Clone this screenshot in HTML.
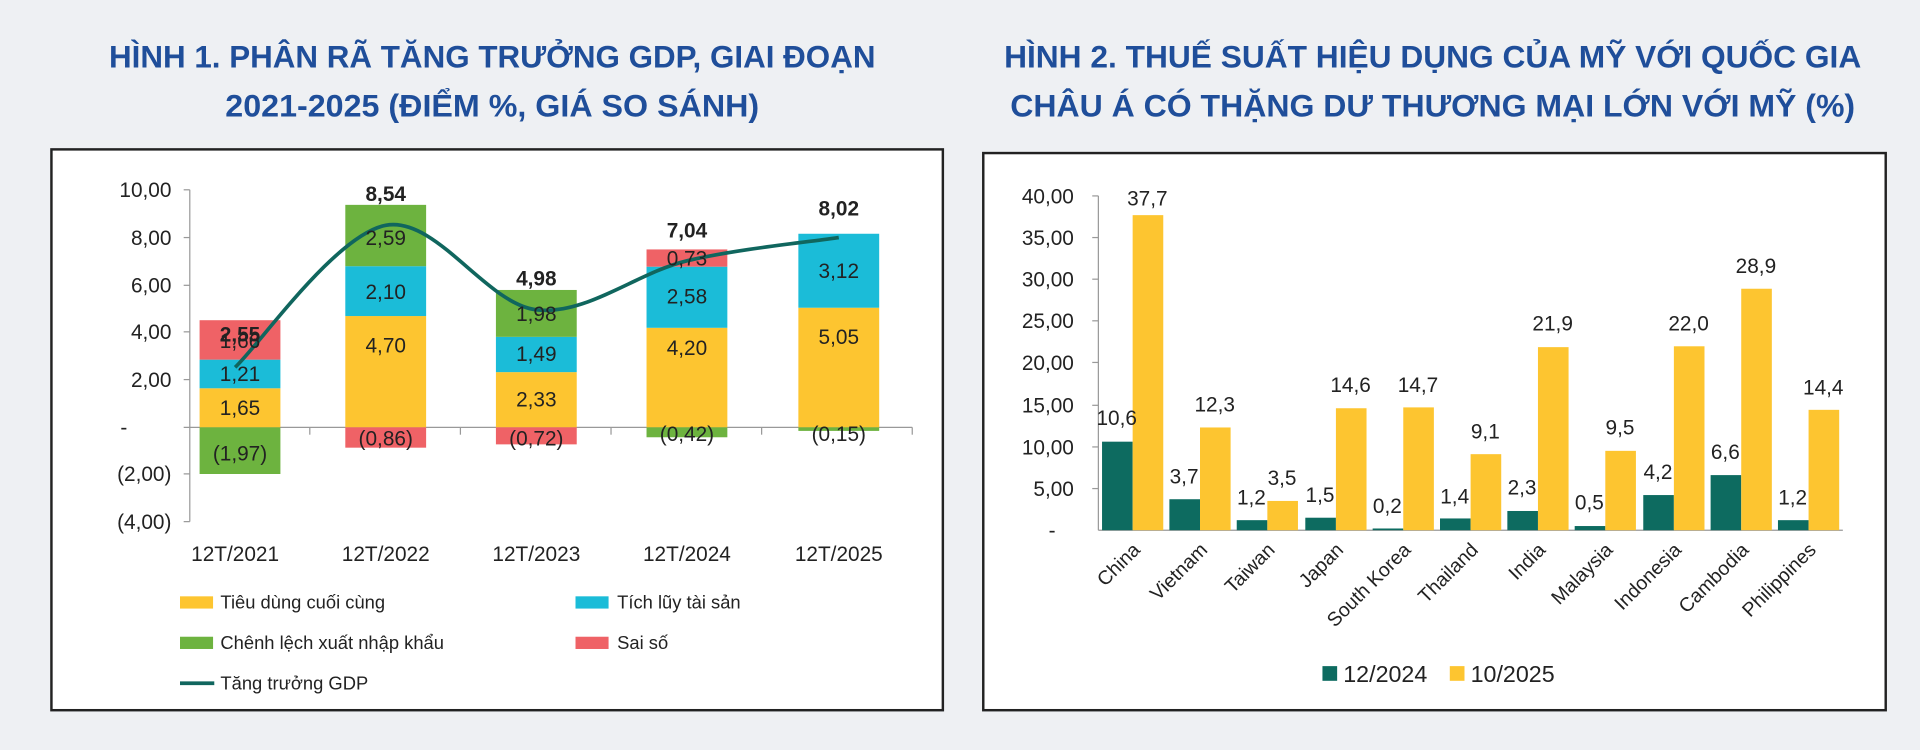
<!DOCTYPE html>
<html><head><meta charset="utf-8"><style>
html,body{margin:0;padding:0;background:#eef0f3;}
svg{display:block;font-family:"Liberation Sans",sans-serif;}
</style></head><body>
<svg width="1920" height="750" viewBox="0 0 1568 612.5" preserveAspectRatio="none" xmlns="http://www.w3.org/2000/svg">
<rect width="1568" height="613" fill="#eef0f3"/>
<g font-weight="bold" font-size="26" fill="#1f4e9a" text-anchor="middle">
<text x="402" y="55" textLength="626" lengthAdjust="spacingAndGlyphs">HÌNH 1. PHÂN RÃ TĂNG TRƯỞNG GDP,  GIAI ĐOẠN</text>
<text x="402" y="95" textLength="436" lengthAdjust="spacingAndGlyphs">2021-2025 (ĐIỂM %, GIÁ SO SÁNH)</text>
<text x="1170" y="55" textLength="700" lengthAdjust="spacingAndGlyphs">HÌNH 2. THUẾ SUẤT HIỆU DỤNG CỦA MỸ VỚI QUỐC GIA</text>
<text x="1170" y="95" textLength="690" lengthAdjust="spacingAndGlyphs">CHÂU Á CÓ THẶNG DƯ THƯƠNG MẠI LỚN VỚI MỸ (%)</text>
</g>
<rect x="42" y="122" width="728" height="458" fill="#fff" stroke="#222" stroke-width="2"/>
<g font-size="17" fill="#222" text-anchor="end">
<text x="140" y="161">10,00</text><text x="140" y="200">8,00</text><text x="140" y="239">6,00</text>
<text x="140" y="277">4,00</text><text x="140" y="316">2,00</text><text x="104" y="355">-</text>
<text x="140" y="393">(2,00)</text><text x="140" y="432">(4,00)</text>
</g>
<line x1="155" y1="155" x2="155" y2="426" stroke="#999"/>
<line x1="150" y1="349" x2="745" y2="349" stroke="#999"/>
<g stroke="#999"><line x1="150" y1="155" x2="155" y2="155"/><line x1="150" y1="194" x2="155" y2="194"/><line x1="150" y1="233" x2="155" y2="233"/><line x1="150" y1="271" x2="155" y2="271"/><line x1="150" y1="310" x2="155" y2="310"/><line x1="150" y1="387" x2="155" y2="387"/><line x1="150" y1="426" x2="155" y2="426"/>
<line x1="253" y1="349" x2="253" y2="355"/><line x1="376" y1="349" x2="376" y2="355"/><line x1="499" y1="349" x2="499" y2="355"/><line x1="622" y1="349" x2="622" y2="355"/><line x1="745" y1="349" x2="745" y2="355"/></g>
<g>
<rect x="163" y="317.1" width="66" height="31.9" fill="#fdc530"/>
<rect x="163" y="293.7" width="66" height="23.4" fill="#1bbcd8"/>
<rect x="163" y="261.5" width="66" height="32.2" fill="#ef6266"/>
<rect x="163" y="349" width="66" height="38.1" fill="#6db33f"/>
<rect x="282" y="258.1" width="66" height="90.9" fill="#fdc530"/>
<rect x="282" y="217.4" width="66" height="40.7" fill="#1bbcd8"/>
<rect x="282" y="167.3" width="66" height="50.1" fill="#6db33f"/>
<rect x="282" y="349" width="66" height="16.6" fill="#ef6266"/>
<rect x="405" y="303.9" width="66" height="45.1" fill="#fdc530"/>
<rect x="405" y="275.1" width="66" height="28.8" fill="#1bbcd8"/>
<rect x="405" y="236.8" width="66" height="38.3" fill="#6db33f"/>
<rect x="405" y="349" width="66" height="13.9" fill="#ef6266"/>
<rect x="528" y="267.7" width="66" height="81.3" fill="#fdc530"/>
<rect x="528" y="217.8" width="66" height="49.9" fill="#1bbcd8"/>
<rect x="528" y="203.7" width="66" height="14.1" fill="#ef6266"/>
<rect x="528" y="349" width="66" height="8.1" fill="#6db33f"/>
<rect x="652" y="251.3" width="66" height="97.7" fill="#fdc530"/>
<rect x="652" y="190.9" width="66" height="60.4" fill="#1bbcd8"/>
<rect x="652" y="349" width="66" height="2.9" fill="#6db33f"/>
</g>
<path d="M192,300 C212.5,280.7 274,191.8 315,184 C356,176.2 397,248.2 438,253 C479,257.8 519.8,222.8 561,213 C602.2,203.2 664.3,197.2 685,194" fill="none" stroke="#10665e" stroke-width="3"/>
<g font-size="17" fill="#222" text-anchor="middle">
<text x="196" y="339">1,65</text><text x="196" y="311">1,21</text><text x="196" y="284">1,66</text><text x="196" y="376">(1,97)</text>
<text x="315" y="288">4,70</text><text x="315" y="244">2,10</text><text x="315" y="200">2,59</text><text x="315" y="364">(0,86)</text>
<text x="438" y="332">2,33</text><text x="438" y="295">1,49</text><text x="438" y="262">1,98</text><text x="438" y="364">(0,72)</text>
<text x="561" y="290">4,20</text><text x="561" y="248">2,58</text><text x="561" y="217">0,73</text><text x="561" y="360">(0,42)</text>
<text x="685" y="281">5,05</text><text x="685" y="227">3,12</text><text x="685" y="360">(0,15)</text>
<g font-weight="bold"><text x="196" y="279">2,55</text><text x="315" y="164">8,54</text><text x="438" y="233">4,98</text><text x="561" y="194">7,04</text><text x="685" y="176">8,02</text></g>
<text x="192" y="458">12T/2021</text><text x="315" y="458">12T/2022</text><text x="438" y="458">12T/2023</text><text x="561" y="458">12T/2024</text><text x="685" y="458">12T/2025</text>
</g>
<g font-size="15" fill="#222">
<rect x="147" y="487" width="27" height="10" fill="#fdc530"/><text x="180" y="497">Tiêu dùng cuối cùng</text>
<rect x="470" y="487" width="27" height="10" fill="#1bbcd8"/><text x="504" y="497">Tích lũy tài sản</text>
<rect x="147" y="520" width="27" height="10" fill="#6db33f"/><text x="180" y="530">Chênh lệch xuất nhập khẩu</text>
<rect x="470" y="520" width="27" height="10" fill="#ef6266"/><text x="504" y="530">Sai số</text>
<line x1="147" y1="558" x2="175" y2="558" stroke="#10665e" stroke-width="3"/><text x="180" y="563">Tăng trưởng GDP</text>
</g>
<rect x="803" y="125" width="737" height="455" fill="#fff" stroke="#222" stroke-width="2"/>
<g font-size="17" fill="#222" text-anchor="end">
<text x="877" y="166">40,00</text><text x="877" y="200">35,00</text><text x="877" y="234">30,00</text><text x="877" y="268">25,00</text>
<text x="877" y="302">20,00</text><text x="877" y="337">15,00</text><text x="877" y="371">10,00</text><text x="877" y="405">5,00</text><text x="862" y="439">-</text>
</g>
<line x1="897" y1="160" x2="897" y2="433" stroke="#999"/>
<line x1="897" y1="433" x2="1505" y2="433" stroke="#999"/>
<g stroke="#999"><line x1="892" y1="160" x2="897" y2="160"/><line x1="892" y1="194" x2="897" y2="194"/><line x1="892" y1="228" x2="897" y2="228"/><line x1="892" y1="262" x2="897" y2="262"/><line x1="892" y1="296" x2="897" y2="296"/><line x1="892" y1="331" x2="897" y2="331"/><line x1="892" y1="365" x2="897" y2="365"/><line x1="892" y1="399" x2="897" y2="399"/></g>
<g font-size="17" fill="#222" text-anchor="middle">
<rect x="900" y="360.7" width="25" height="72.3" fill="#0d6b60"/><rect x="925" y="175.7" width="25" height="257.3" fill="#fdc530"/><text x="912" y="347">10,6</text><text x="937" y="168">37,7</text>
<rect x="955" y="407.7" width="25" height="25.3" fill="#0d6b60"/><rect x="980" y="349.1" width="25" height="83.9" fill="#fdc530"/><text x="967" y="395">3,7</text><text x="992" y="336">12,3</text>
<rect x="1010" y="424.8" width="25" height="8.2" fill="#0d6b60"/><rect x="1035" y="409.1" width="25" height="23.9" fill="#fdc530"/><text x="1022" y="412">1,2</text><text x="1047" y="396">3,5</text>
<rect x="1066" y="422.8" width="25" height="10.2" fill="#0d6b60"/><rect x="1091" y="333.4" width="25" height="99.6" fill="#fdc530"/><text x="1078" y="410">1,5</text><text x="1103" y="320">14,6</text>
<rect x="1121" y="431.6" width="25" height="1.4" fill="#0d6b60"/><rect x="1146" y="332.7" width="25" height="100.3" fill="#fdc530"/><text x="1133" y="419">0,2</text><text x="1158" y="320">14,7</text>
<rect x="1176" y="423.4" width="25" height="9.6" fill="#0d6b60"/><rect x="1201" y="370.9" width="25" height="62.1" fill="#fdc530"/><text x="1188" y="411">1,4</text><text x="1213" y="358">9,1</text>
<rect x="1231" y="417.3" width="25" height="15.7" fill="#0d6b60"/><rect x="1256" y="283.5" width="25" height="149.5" fill="#fdc530"/><text x="1243" y="404">2,3</text><text x="1268" y="270">21,9</text>
<rect x="1286" y="429.6" width="25" height="3.4" fill="#0d6b60"/><rect x="1311" y="368.2" width="25" height="64.8" fill="#fdc530"/><text x="1298" y="416">0,5</text><text x="1323" y="355">9,5</text>
<rect x="1342" y="404.3" width="25" height="28.7" fill="#0d6b60"/><rect x="1367" y="282.8" width="25" height="150.2" fill="#fdc530"/><text x="1354" y="391">4,2</text><text x="1379" y="270">22,0</text>
<rect x="1397" y="388" width="25" height="45" fill="#0d6b60"/><rect x="1422" y="235.8" width="25" height="197.2" fill="#fdc530"/><text x="1409" y="375">6,6</text><text x="1434" y="223">28,9</text>
<rect x="1452" y="424.8" width="25" height="8.2" fill="#0d6b60"/><rect x="1477" y="334.7" width="25" height="98.3" fill="#fdc530"/><text x="1464" y="412">1,2</text><text x="1489" y="322">14,4</text>
</g>
<g font-size="16" fill="#222" text-anchor="end">
<text transform="translate(932,450) rotate(-45)">China</text>
<text transform="translate(987,450) rotate(-45)">Vietnam</text>
<text transform="translate(1042,450) rotate(-45)">Taiwan</text>
<text transform="translate(1098,450) rotate(-45)">Japan</text>
<text transform="translate(1153,450) rotate(-45)">South Korea</text>
<text transform="translate(1208,450) rotate(-45)">Thailand</text>
<text transform="translate(1263,450) rotate(-45)">India</text>
<text transform="translate(1318,450) rotate(-45)">Malaysia</text>
<text transform="translate(1374,450) rotate(-45)">Indonesia</text>
<text transform="translate(1429,450) rotate(-45)">Cambodia</text>
<text transform="translate(1484,450) rotate(-45)">Philippines</text>
</g>
<g font-size="19" fill="#222">
<rect x="1080" y="544" width="12" height="12" fill="#0d6b60"/><text x="1097" y="557">12/2024</text>
<rect x="1184" y="544" width="12" height="12" fill="#fdc530"/><text x="1201" y="557">10/2025</text>
</g>
</svg>
</body></html>
